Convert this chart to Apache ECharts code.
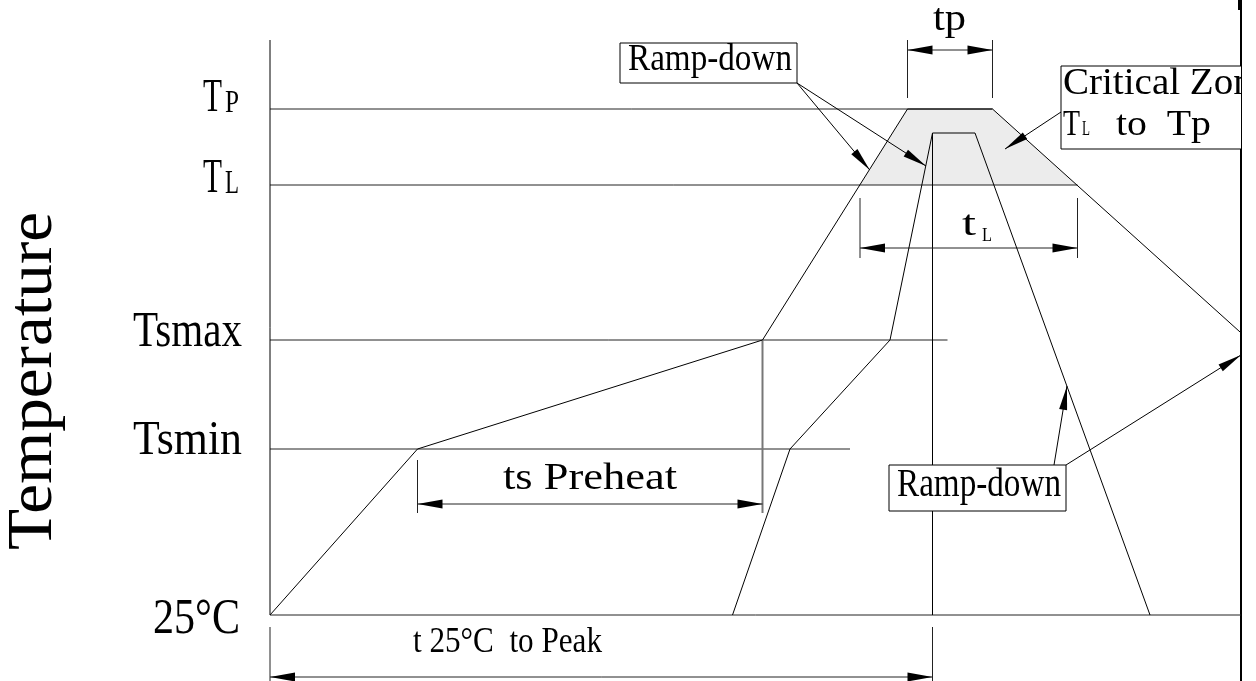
<!DOCTYPE html>
<html><head><meta charset="utf-8">
<script src="https://cdn.jsdelivr.net/npm/echarts@6/dist/echarts.min.js"></script>
<style>html,body{margin:0;padding:0;background:#fff}#c{width:1256px;height:681px}</style>
</head><body><div id="c"></div>
<script>
// ---------------- DATA ----------------
// reference temperature levels (schematic units) and their tick labels
const levelNames = ['25°C', 'Tsmin', 'Tsmax', 'TL', 'TP'];
const levelTemps = [25, 108, 162.5, 240, 278];
const levelLineEnds = [388.4, 232, 271, 323, 289];   // time where each level guide ends
// outer (max) profile
const outerTime = [0, 59, 197, 255, 289, 400];
const outerTemp = [25, 108, 162.5, 278, 278, 153];
// inner (min) profile
const innerTime = [185, 208, 248, 265, 282, 352];
const innerTemp = [25, 108, 162.5, 266, 266, 25];
// dimension annotations
const dimNames = ['ts Preheat', 't 25°C  to Peak', 'tp', 'tL'];
const dimStart = [59, 0, 255, 236];
const dimEnd = [197, 265, 289, 323];
const dimLevel = [80.5, -6, 307.5, 208.5];
// callout texts
const calloutTexts = ['Ramp-down', 'Ramp-down', 'Critical Zone', 'to  Tp'];
const axisTitle = 'Temperature';

// ---------------- LAYOUT / STYLE ----------------
const FONT = 'Liberation Serif';
const L = {
  axisTop: 312.5,
  peakTime: 265,
  tsExtBottom: 76,
  extensions: [[0, 19, -8], [265, 19, -8], [59, 102.5, 76], [255, 312.5, 283.5], [289, 312.5, 283.5], [236, 233.5, 203.5], [323, 233.5, 203.5]],
  rampTopBox: [140, 291, 210.8, 311],
  rampTopTips: [[239.9, 247.5], [262.4, 249.5]],
  rampBotBox: [247.6, 77, 318.4, 100],
  rampBotLeaders: [[[313.6, 100], [318.8, 139.5]], [[318.4, 100], [388.4, 155]]],
  critBox: [316.4, 258, 430, 299.5],
  critLeader: [[316.4, 276.5], [294, 258]],
  // [text, t, v, widthPx, capPx, align]
  texts: [
    [calloutTexts[0], 176, 302.25, 164, 25, 'center'],
    [calloutTexts[1], 283.6, 89.5, 164, 26, 'center'],
    [dimNames[0], 128, 92.75, 174, 25, 'center'],
    [dimNames[1], 95, 11.5, 189, 24, 'center'],
    [dimNames[2], 271.8, 322.25, 33, 25, 'center'],
    ['t', 276.8, 220, 14, 24, 'left'],
    ['L', 284.8, 214.5, 10, 12, 'left']
  ],
  critTexts: [
    [calloutTexts[2], 317.2, 290.25, 207, 25, 'left'],
    ['T', 317.2, 270, 17, 24, 'left'],
    ['L', 324.8, 267.75, 8, 14, 'left'],
    [calloutTexts[3], 338.4, 270, 95, 24, 'left']
  ],
  // per level: list of [text, dxPx, dyPx, widthPx, capPx, align]
  yLabels: [
    [['25°C', -117, 4.5, 87, 33, 'left']],
    [['Tsmin', -28, -8, 109, 32, 'right']],
    [['Tsmax', -28, -8, 109, 34, 'right']],
    [['T', -67, -6, 19, 32, 'left'], ['L', -45, -1, 14, 22, 'left']],
    [['T', -67, -10.5, 19, 31, 'left'], ['P', -45, -5.5, 14, 21, 'left']]
  ],
  title: [-236, 142, 338, 42]
};

const mctx = document.createElement('canvas').getContext('2d');
function measure(text, fs) { mctx.font = fs + 'px "' + FONT + '"'; return mctx.measureText(text).width; }
function txt(text, x, y, w, cap, align, rot) {
  const fs = cap / 0.66;
  const sx = w / measure(text, fs);
  return {type: 'text', x: x, y: y, rotation: rot || 0, scaleX: sx, scaleY: 1,
    style: {text: text, x: 0, y: 0, fontSize: fs, fontFamily: FONT, fill: '#000',
      align: align, verticalAlign: 'middle', textAlign: align, textVerticalAlign: 'middle'}};
}
function seg(a, b, stroke, w) {
  return {type: 'line', shape: {x1: a[0], y1: a[1], x2: b[0], y2: b[1]}, style: {stroke: stroke || '#000', lineWidth: w || 1}};
}
function arrowHead(tip, from, len, hw) {
  const dx = tip[0] - from[0], dy = tip[1] - from[1], d = Math.hypot(dx, dy);
  const ux = dx / d, uy = dy / d, bx = tip[0] - ux * len, by = tip[1] - uy * len;
  return {type: 'polygon', shape: {points: [tip, [bx - uy * hw, by + ux * hw], [bx + uy * hw, by - ux * hw]]}, style: {fill: '#000'}};
}
function box(c, b) {
  const p0 = c(b[0], b[3]), p1 = c(b[2], b[1]);
  return {type: 'rect', shape: {x: p0[0], y: p0[1], width: p1[0] - p0[0], height: p1[1] - p0[1]}, style: {fill: '#fff', stroke: '#000', lineWidth: 1}};
}
function crossTime(t0, v0, t1, v1, v) { return t0 + (v - v0) / (v1 - v0) * (t1 - t0); }

function renderZone(params, api) {
  const c = (t, v) => api.coord([t, v]);
  const TL = levelTemps[3];
  const tl = crossTime(outerTime[2], outerTemp[2], outerTime[3], outerTemp[3], TL);
  const tr = crossTime(outerTime[4], outerTemp[4], outerTime[5], outerTemp[5], TL);
  return {type: 'polygon', shape: {points: [c(tl, TL), c(outerTime[3], outerTemp[3]), c(outerTime[4], outerTemp[4]), c(tr, TL)]},
    style: {fill: '#ececec'}};
}

function renderGuides(params, api) {
  const c = (t, v) => api.coord([t, v]);
  const els = [];
  levelTemps.forEach((v, i) => els.push(seg(c(0, v), c(levelLineEnds[i], v), '#222')));
  els.push(seg(c(0, L.axisTop), c(0, levelTemps[0])));
  els.push(seg(c(L.peakTime, levelTemps[0]), c(L.peakTime, innerTemp[3])));
  els.push(seg(c(dimEnd[0], levelTemps[2]), c(dimEnd[0], L.tsExtBottom), '#777', 2));
  L.extensions.forEach(e => els.push(seg(c(e[0], e[1]), c(e[0], e[2]), '#222')));
  dimNames.forEach((n, i) => {
    const a = c(dimStart[i], dimLevel[i]), b = c(dimEnd[i], dimLevel[i]);
    els.push(seg(a, b, '#222'), arrowHead(a, b, 25, 4.5), arrowHead(b, a, 25, 4.5));
  });
  // top Ramp-down callout
  const tb = L.rampTopBox, corner = c(tb[2], tb[1]);
  L.rampTopTips.forEach(tp => { const tip = c(tp[0], tp[1]); els.push(seg(corner, tip), arrowHead(tip, corner, 24, 4)); });
  els.push(box(c, tb));
  // bottom Ramp-down callout
  L.rampBotLeaders.slice(0, 1).forEach(ld => { const a = c(ld[0][0], ld[0][1]), tip = c(ld[1][0], ld[1][1]); els.push(seg(a, tip), arrowHead(tip, a, 24, 4)); });
  els.push(box(c, L.rampBotBox));
  L.texts.forEach(t => { const p = c(t[1], t[2]); els.push(txt(t[0], p[0], p[1], t[3], t[4], t[5])); });
  // y labels
  levelTemps.forEach((v, i) => {
    const p = c(0, v);
    L.yLabels[i].forEach(l => els.push(txt(l[0], p[0] + l[1], p[1] + l[2], l[3], l[4], l[5])));
  });
  const tp = c(0, L.title[1]);
  els.push(txt(axisTitle, tp[0] + L.title[0], tp[1], L.title[2], L.title[3], 'center', Math.PI / 2));
  return {type: 'group', children: els};
}

function renderCritical(params, api) {
  const c = (t, v) => api.coord([t, v]);
  const els = [];
  L.rampBotLeaders.slice(1).forEach(ld => { const a = c(ld[0][0], ld[0][1]), tip = c(ld[1][0], ld[1][1]); els.push(seg(a, tip), arrowHead(tip, a, 24, 4)); });
  const a = c(L.critLeader[0][0], L.critLeader[0][1]), tip = c(L.critLeader[1][0], L.critLeader[1][1]);
  els.push(seg(a, tip), arrowHead(tip, a, 24, 4));
  els.push(box(c, L.critBox));
  L.critTexts.forEach(t => { const p = c(t[1], t[2]); els.push(txt(t[0], p[0], p[1], t[3], t[4], t[5])); });
  return {type: 'group', children: els};
}

const chart = echarts.init(document.getElementById('c'), null, {renderer: 'canvas'});
chart.setOption({
  animation: false,
  backgroundColor: '#fff',
  grid: {left: 270, right: 15, top: 0, bottom: 0, containLabel: false, outerBoundsMode: 'none'},
  xAxis: {type: 'value', min: 0, max: 388.4, show: false},
  yAxis: [
    {type: 'value', min: -8, max: 332.5, show: false},
    {type: 'value', min: -8, max: 332.5, position: 'right', axisLine: {show: true, lineStyle: {color: '#000', width: 2}},
      axisLabel: {show: false}, axisTick: {show: false}, splitLine: {show: false}}
  ],
  graphic: [{type: 'rect', right: 14, top: 0, shape: {width: 4, height: 10}, style: {fill: '#000'}}],
  series: [
    {type: 'custom', name: 'zone', data: [[0, 0]], renderItem: renderZone, clip: false, silent: true},
    {type: 'line', name: 'outer', data: outerTime.map((t, i) => [t, outerTemp[i]]), symbol: 'none',
      lineStyle: {color: '#000', width: 1}, silent: true},
    {type: 'line', name: 'inner', data: innerTime.map((t, i) => [t, innerTemp[i]]), symbol: 'none',
      lineStyle: {color: '#000', width: 1}, silent: true},
    {type: 'custom', name: 'guides', data: [[0, 0]], renderItem: renderGuides, clip: false, silent: true},
    {type: 'custom', name: 'critical', data: [[0, 0]], renderItem: renderCritical, clip: true, silent: true}
  ]
});
</script>
</body></html>
